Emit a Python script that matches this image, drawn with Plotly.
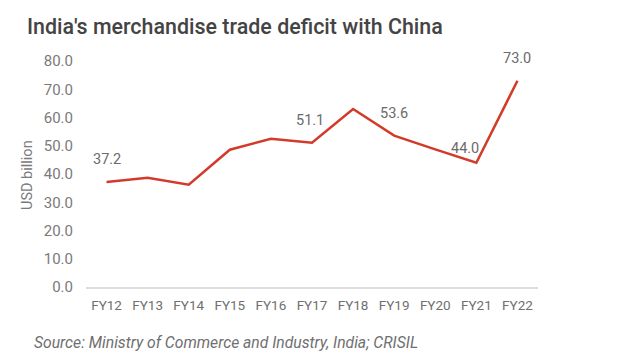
import plotly.graph_objects as go

categories = ["FY12", "FY13", "FY14", "FY15", "FY16", "FY17", "FY18", "FY19", "FY20", "FY21", "FY22"]
deficit = [37.2, 38.7, 36.2, 48.6, 52.5, 51.1, 63.0, 53.6, 48.7, 44.0, 73.0]
# which points carry a value label, with pixel offsets (dx, dy up)
labelled = {"FY12": (0, 22), "FY17": (-2, 22), "FY19": (0, 22), "FY21": (-11, 14), "FY22": (0, 22)}
yticks = [0, 10, 20, 30, 40, 50, 60, 70, 80]

L, R, T, B = 86, 94, 61, 73
PW, PH = 632 - L - R, 360 - T - B

fig = go.Figure()
fig.add_trace(go.Scatter(
    x=categories, y=deficit, mode="lines",
    line=dict(color="#d23b2a", width=2.5),
    hoverinfo="skip",
))

for cat, (dx, dy) in labelled.items():
    v = deficit[categories.index(cat)]
    fig.add_annotation(x=cat, y=v, text=f"{v:.1f}", showarrow=False,
                       xshift=dx, yshift=dy,
                       font=dict(size=14.5, color="#6b6b6b", family="Roboto"))

fig.update_layout(
    width=632, height=360,
    margin=dict(l=L, r=R, t=T, b=B, autoexpand=False),
    paper_bgcolor="white", plot_bgcolor="white",
    showlegend=False,
    font=dict(family="Roboto", color="#777777", size=12),
    title=dict(text="India's merchandise trade deficit with China",
               x=27 / 632, xanchor="left", y=1 - 27 / 360, yanchor="middle",
               font=dict(size=21.4, color="#444444", family="Roboto Medium, Roboto")),
    xaxis=dict(type="category", range=[-0.5, 10.5], showgrid=False,
               showline=True, linecolor="#dddddd", linewidth=2,
               ticks="", automargin=False, ticklabelstandoff=5,
               tickfont=dict(size=13.5, color="#6f6f6f")),
    yaxis=dict(range=[0, 80], tickvals=yticks, ticktext=[f"{t:.1f}" for t in yticks],
               showgrid=False, zeroline=False, showline=False, ticks="", automargin=False,
               tickfont=dict(size=15, color="#7a7a7a"), ticklabelstandoff=12),
)
fig.add_annotation(x=(27 - L) / PW, y=(360 - B - 175) / PH, xref="paper", yref="paper",
                   xanchor="center", yanchor="middle", showarrow=False, textangle=-90,
                   text="USD billion", font=dict(size=14.5, color="#7a7a7a", family="Roboto"))
fig.add_annotation(x=(32 - L) / PW, y=(360 - B - 342) / PH, xref="paper", yref="paper",
                   xanchor="left", yanchor="middle", showarrow=False,
                   text="<i>Source: Ministry of Commerce and Industry, India; CRISIL</i>",
                   font=dict(size=15.7, color="#6f6f6f", family="Roboto"))
fig.write_html("out.html", config={"displayModeBar": False},
               post_script="document.body.style.margin='0';")
